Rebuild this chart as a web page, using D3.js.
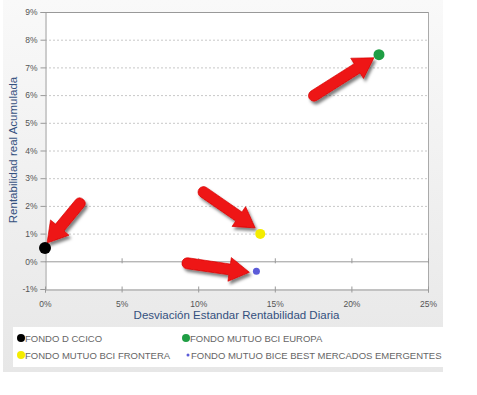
<!DOCTYPE html>
<html>
<head>
<meta charset="utf-8">
<script src="https://cdn.jsdelivr.net/npm/d3@7"></script>
<style>
  body { margin: 0; background: #fff; }
  svg { display: block; font-family: "Liberation Sans", Arial, sans-serif; }
</style>
</head>
<body>
<div id="container"></div>
<script>
// data
var fondos = ["FONDO D CCICO", "FONDO MUTUO BCI EUROPA", "FONDO MUTUO BCI FRONTERA", "FONDO MUTUO BICE BEST MERCADOS EMERGENTES"];
var desviacion = [0.000, 0.218, 0.1405, 0.138];
var rentabilidad = [0.0048, 0.0746, 0.0099, -0.0036];
var xTicks = [0, 0.05, 0.10, 0.15, 0.20, 0.25];
var yTicks = [-0.01, 0, 0.01, 0.02, 0.03, 0.04, 0.05, 0.06, 0.07, 0.08, 0.09];

var colors = ["#000000", "#1f9e44", "#f4ec00", "#5b5bd8"];
var radius = [6, 5.5, 5, 3.5];
// arrow offsets (px) from each point: tip and tail
var arrows = [
  { tip: [2, -5], tail: [35, -45] },
  { tip: [-5, 3], tail: [-65, 41] },
  { tip: [-5, -6], tail: [-57, -42] },
  { tip: [-7, 1], tail: [-69, -8] }
];

var width = 477, height = 395;
var plotLeft = 45, plotRight = 428, plotTop = 12, plotBottom = 289;

var svg = d3.select("#container").append("svg")
  .attr("width", width)
  .attr("height", height);

var defs = svg.append("defs");
var bg = defs.append("linearGradient").attr("id", "bg")
  .attr("x1", "0%").attr("y1", "0%").attr("x2", "0%").attr("y2", "100%");
bg.append("stop").attr("offset", "0%").attr("stop-color", "#f9f9f9");
bg.append("stop").attr("offset", "100%").attr("stop-color", "#e7e7e7");

var shadow = defs.append("filter").attr("id", "shadow")
  .attr("x", "-30%").attr("y", "-30%").attr("width", "160%").attr("height", "160%");
shadow.append("feDropShadow").attr("dx", 2).attr("dy", 3)
  .attr("stdDeviation", 1.5).attr("flood-color", "#000").attr("flood-opacity", 0.5);

// panel
svg.append("rect").attr("x", 3).attr("y", 0).attr("width", 440).attr("height", 372)
  .attr("fill", "url(#bg)");
svg.append("rect").attr("x", plotLeft).attr("y", plotTop)
  .attr("width", plotRight - plotLeft).attr("height", plotBottom - plotTop)
  .attr("fill", "#fff");

var x = d3.scaleLinear().domain([0, 0.25]).range([plotLeft, plotRight]);
var y = d3.scaleLinear().domain([-0.01, 0.09]).range([plotBottom, plotTop]);

function pct(d) { return Math.round(d * 100) + "%"; }

// grid
svg.append("g").selectAll("line")
  .data(yTicks.filter(d => d > 0 && d < 0.09))
  .enter().append("line")
  .attr("x1", plotLeft).attr("x2", plotRight)
  .attr("y1", d => y(d) + 0.5).attr("y2", d => y(d) + 0.5)
  .attr("stroke", "#c8c8c8").attr("stroke-dasharray", "2,2");

// borders
svg.append("line").attr("x1", plotLeft).attr("x2", plotRight)
  .attr("y1", plotTop + 0.5).attr("y2", plotTop + 0.5)
  .attr("stroke", "#999");
svg.append("line").attr("x1", plotRight + 0.5).attr("x2", plotRight + 0.5)
  .attr("y1", plotTop).attr("y2", plotBottom)
  .attr("stroke", "#aaa");
svg.append("line").attr("x1", plotLeft).attr("x2", plotRight)
  .attr("y1", y(0) + 0.5).attr("y2", y(0) + 0.5)
  .attr("stroke", "#999");

// axes
var yAxis = svg.append("g")
  .attr("transform", "translate(" + (plotLeft + 0.5) + ",0)")
  .call(d3.axisLeft(y).tickValues(yTicks).tickFormat(pct).tickSize(5).tickPadding(3));
yAxis.select(".domain").attr("stroke", "#999");
yAxis.selectAll(".tick line").attr("stroke", "#999");
yAxis.selectAll("text").attr("fill", "#555").style("font-size", "8.5px");

var xAxis = svg.append("g")
  .attr("transform", "translate(0," + (plotBottom + 0.5) + ")")
  .call(d3.axisBottom(x).tickValues(xTicks).tickFormat(pct).tickSize(3).tickPadding(8));
xAxis.select(".domain").attr("stroke", "#999");
xAxis.selectAll(".tick line").attr("stroke", "#999").attr("y1", -3);
xAxis.selectAll("text").attr("fill", "#555").style("font-size", "8.5px");

// ticks on zero line
svg.append("g").selectAll("line")
  .data(xTicks.slice(1))
  .enter().append("line")
  .attr("x1", d => x(d) + 0.5).attr("x2", d => x(d) + 0.5)
  .attr("y1", y(0) - 3).attr("y2", y(0) + 2)
  .attr("stroke", "#999");

// axis titles
svg.append("text")
  .attr("x", (plotLeft + plotRight) / 2)
  .attr("y", 319)
  .attr("text-anchor", "middle")
  .attr("fill", "#34507e")
  .style("font-size", "11.5px")
  .text("Desviación Estandar Rentabilidad Diaria");

svg.append("text")
  .attr("transform", "translate(17,150) rotate(-90)")
  .attr("text-anchor", "middle")
  .attr("fill", "#34507e")
  .style("font-size", "11.5px")
  .text("Rentabilidad real Acumulada");

// arrows
function arrowPath(i) {
  var px = x(desviacion[i]), py = y(rentabilidad[i]);
  var tx = px + arrows[i].tip[0], ty = py + arrows[i].tip[1];
  var sx = px + arrows[i].tail[0], sy = py + arrows[i].tail[1];
  var dx = tx - sx, dy = ty - sy, len = Math.sqrt(dx * dx + dy * dy);
  var ux = dx / len, uy = dy / len, nx = -uy, ny = ux;
  var hl = 20, hw = 12, sw = 5.5;
  var bx = tx - ux * hl, by = ty - uy * hl;
  var pts = [
    [sx + nx * sw, sy + ny * sw],
    [bx + nx * sw, by + ny * sw],
    [bx + nx * hw, by + ny * hw],
    [tx, ty],
    [bx - nx * hw, by - ny * hw],
    [bx - nx * sw, by - ny * sw],
    [sx - nx * sw, sy - ny * sw]
  ];
  return "M" + pts.map(p => p[0].toFixed(1) + "," + p[1].toFixed(1)).join("L") +
    "A" + sw + "," + sw + " 0 0 0 " + pts[0][0].toFixed(1) + "," + pts[0][1].toFixed(1) + "Z";
}

svg.append("g").selectAll("path")
  .data(d3.range(fondos.length))
  .enter().append("path")
  .attr("d", arrowPath)
  .attr("fill", "#ee1414")
  .attr("stroke", "#d40000")
  .attr("stroke-width", 0.6)
  .attr("stroke-linejoin", "round")
  .attr("filter", "url(#shadow)");

// points
svg.append("g").selectAll("circle")
  .data(d3.range(fondos.length))
  .enter().append("circle")
  .attr("cx", i => x(desviacion[i]))
  .attr("cy", i => y(rentabilidad[i]))
  .attr("r", i => radius[i])
  .attr("fill", i => colors[i]);

// legend
svg.append("rect").attr("x", 13).attr("y", 327).attr("width", 430).attr("height", 40)
  .attr("fill", "#fff");

var legendPos = [[21, 338], [186, 338], [21, 355], [188, 355]];
var legendR = [4, 4, 4, 1.5];
var leg = svg.append("g").selectAll("g")
  .data(d3.range(fondos.length))
  .enter().append("g")
  .attr("transform", i => "translate(" + legendPos[i][0] + "," + legendPos[i][1] + ")");
leg.append("circle").attr("r", i => legendR[i]).attr("fill", i => colors[i]);
leg.append("text")
  .attr("x", i => i === 3 ? 3 : 4)
  .attr("y", 3.5)
  .attr("fill", "#666")
  .style("font-size", "9.5px")
  .text(i => fondos[i]);
</script>
</body>
</html>
